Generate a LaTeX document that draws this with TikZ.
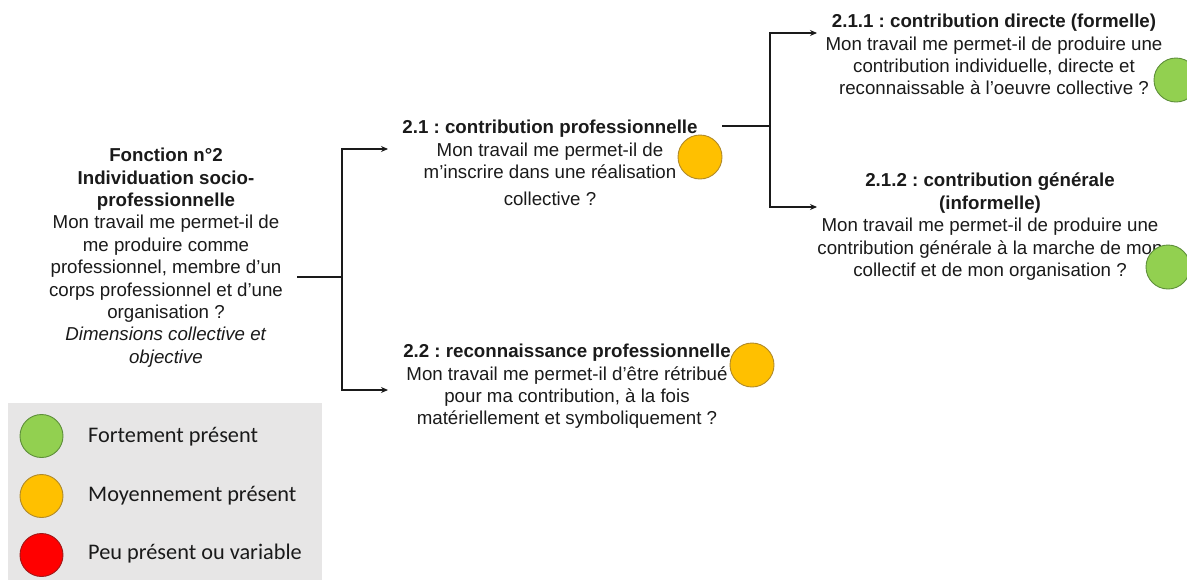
\documentclass[tikz,border=0pt]{standalone}
\usepackage{fontspec}
\setmainfont{Liberation Sans}
\newfontfamily\legendfont{Carlito}
\usetikzlibrary{arrows.meta}
\frenchspacing
\definecolor{ink}{HTML}{1A1A1A}
\definecolor{okgreen}{HTML}{92D050}
\definecolor{okgreenline}{HTML}{5E8F3A}
\definecolor{midorange}{HTML}{FFC000}
\definecolor{midorangeline}{HTML}{B08A2A}
\definecolor{lowred}{HTML}{FF0000}
\definecolor{lowredline}{HTML}{A01818}
\definecolor{legendbg}{HTML}{E7E6E6}
\begin{document}
\begin{tikzpicture}[x=1pt,y=-1pt,
  txt/.style={inner sep=0pt, align=center, text=ink, anchor=north,
              font=\fontsize{18.7}{22.4}\selectfont},
  legtxt/.style={inner sep=0pt, anchor=west, text=ink,
                 font=\legendfont\fontsize{22.3}{26}\selectfont},
  link/.style={line width=1.1pt, draw=ink},
  arr/.style={link, -{Stealth[length=7pt,width=6pt]}},
  dot/.style={circle, inner sep=0pt, minimum size=44pt, line width=0.9pt},
  gdot/.style={dot, fill=okgreen, draw=okgreenline},
  odot/.style={dot, fill=midorange, draw=midorangeline},
  rdot/.style={dot, fill=lowred, draw=lowredline}
]
\useasboundingbox (0,0) rectangle (1187,579);
\clip (0,0) rectangle (1187,579);

% main function
\node[txt] (fn) at (166,148) {\textbf{Fonction n°2}\\
  \textbf{Individuation socio-}\\
  \textbf{professionnelle}\\
  Mon travail me permet-il de\\
  me produire comme\\
  professionnel, membre d’un\\
  corps professionnel et d’une\\
  organisation ?\\
  \textit{Dimensions collective et}\\
  \textit{objective}};

% sub-functions
\node[txt] (n21) at (550,120) {\textbf{2.1 : contribution professionnelle}\\
  Mon travail me permet-il de\\
  m’inscrire dans une réalisation\\[5pt]
  collective ?};
\node[txt] (n22) at (567,344) {\textbf{2.2 : reconnaissance professionnelle}\\
  Mon travail me permet-il d'être rétribué\\
  pour ma contribution, à la fois\\
  matériellement et symboliquement ?};
\node[txt] (n211) at (994,14) {\textbf{2.1.1 : contribution directe (formelle)}\\
  Mon travail me permet-il de produire une\\
  contribution individuelle, directe et\\
  reconnaissable à l'oeuvre collective ?};
\node[txt] (n212) at (990,173) {\textbf{2.1.2 : contribution générale}\\
  \textbf{(informelle)}\\
  Mon travail me permet-il de produire une\\
  contribution générale à la marche de mon\\
  collectif et de mon organisation ?};

% connector end points
\coordinate (fnout) at (297,277);
\coordinate (fork1) at (342,277);
\coordinate (in21) at (388,149);
\coordinate (in22) at (388,390);
\coordinate (out21) at (722,126);
\coordinate (fork2) at (770,126);
\coordinate (in211) at (817,33);
\coordinate (in212) at (817,207);

\draw[link] (fnout) -- (fork1);
\draw[arr] (fork1) |- (in21);
\draw[arr] (fork1) |- (in22);
\draw[link] (out21) -- (fork2);
\draw[arr] (fork2) |- (in211);
\draw[arr] (fork2) |- (in212);

% level markers
\node[odot] (c21) at (700,157) {};
\node[odot] (c22) at (752,365) {};
\node[gdot] (c211) at (1176,80) {};
\node[gdot] (c212) at (1168,267) {};

% legend
\fill[legendbg] (8,403) rectangle (322,585);
\node[gdot, minimum size=43pt] (lg) at (41.5,436) {};
\node[odot, minimum size=43pt] (lo) at (41.5,496) {};
\node[rdot, minimum size=43pt] (lr) at (41.5,555) {};
\node[legtxt] (tg) at (88,437) {Fortement présent};
\node[legtxt] (to) at (88,496) {Moyennement présent};
\node[legtxt] (tr) at (88,554) {Peu présent ou variable};
\end{tikzpicture}
\end{document}
